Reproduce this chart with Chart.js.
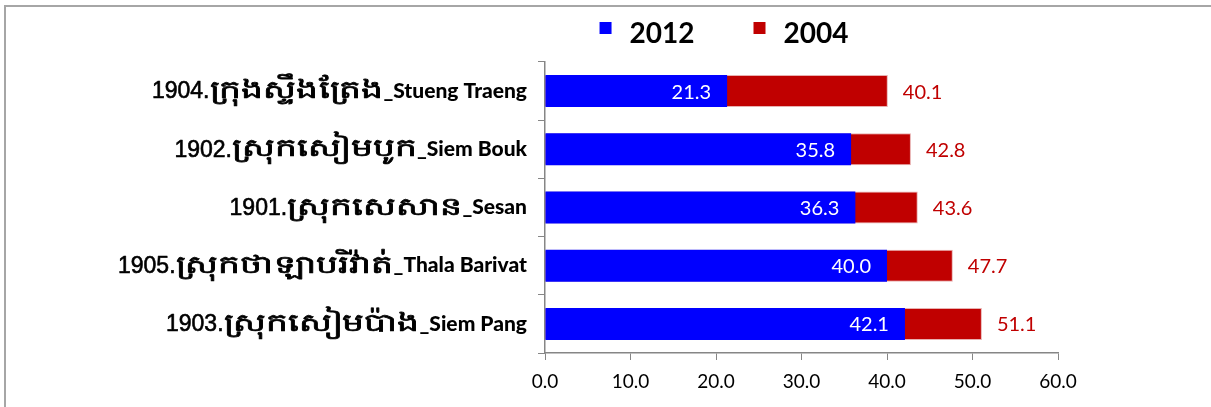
<!DOCTYPE html>
<html>
<head>
<meta charset="utf-8">
<script src="https://cdn.jsdelivr.net/npm/chart.js@4.4.1/dist/chart.umd.min.js"></script>
<style>
  html, body { margin: 0; padding: 0; background: #fff; overflow: hidden; }
  #frame {
    position: absolute; left: 4px; top: 5px; width: 1400px; height: 600px;
    border-left: 2px solid #a6a6a6; border-top: 2px solid #a6a6a6;
  }
  #wrap { position: absolute; left: 0; top: 0; width: 1211px; height: 407px; }
</style>
</head>
<body>
<div id="frame"></div>
<div id="wrap"><canvas id="chart"></canvas></div>
<script>
// Districts, top to bottom
const categories = [
  '1904.ក្រុងស្ទឹងត្រែង_Stueng Traeng',
  '1902.ស្រុកសៀមបូក_Siem Bouk',
  '1901.ស្រុកសេសាន_Sesan',
  '1905.ស្រុកថាឡាបរិវ៉ាត់_Thala Barivat',
  '1903.ស្រុកសៀមប៉ាង_Siem Pang'
];
const seriesNames = ['2012', '2004'];
const values2012 = [21.3, 35.8, 36.3, 40.0, 42.1];
const values2004 = [40.1, 42.8, 43.6, 47.7, 51.1];
const xTicks = [0, 10, 20, 30, 40, 50, 60];

const BLUE = '#0000ff';
const RED = '#c00000';
const AXIS = '#868686';

// Value labels: 2012 inside the bar end in white, 2004 just past the bar end in red
const valueLabels = {
  id: 'valueLabels',
  afterDatasetsDraw(chart) {
    const ctx = chart.ctx;
    ctx.save();
    ctx.font = '20px Lato';
    ctx.textBaseline = 'middle';
    chart.data.datasets.forEach((ds, di) => {
      const meta = chart.getDatasetMeta(di);
      meta.data.forEach((bar, i) => {
        const txt = ds.data[i].toFixed(1);
        if (di === 0) {
          ctx.fillStyle = '#ffffff';
          ctx.textAlign = 'right';
          ctx.fillText(txt, bar.x - 16, bar.y + 1);
        } else {
          ctx.fillStyle = RED;
          ctx.textAlign = 'left';
          ctx.fillText(txt, bar.x + 15, bar.y + 1);
        }
      });
    });
    ctx.restore();
  }
};

// Category labels: district code, Khmer name (wide, medium weight), then the romanised name in bold
const categoryLabels = {
  id: 'categoryLabels',
  afterDraw(chart) {
    const ctx = chart.ctx;
    const y = chart.scales.y;
    const right = y.right - 18;
    const khmerStretch = 1.38;
    ctx.save();
    ctx.textBaseline = 'middle';
    ctx.textAlign = 'right';
    ctx.fillStyle = '#000000';
    ctx.strokeStyle = '#000000';
    ctx.lineJoin = 'round';
    categories.forEach((label, i) => {
      const dot = label.indexOf('.') + 1;
      const cut = label.indexOf('_');
      const code = label.slice(0, dot);
      const khmer = label.slice(dot, cut);
      const latin = label.slice(cut);
      const py = y.getPixelForValue(i);
      let x = right;
      ctx.font = '900 21px Lato';
      ctx.fillText(latin, x, py);
      x -= ctx.measureText(latin).width;
      ctx.font = '25px "Noto Sans", sans-serif';
      const kw = ctx.measureText(khmer).width * khmerStretch;
      ctx.save();
      ctx.translate(x, py);
      ctx.scale(khmerStretch, 1);
      ctx.lineWidth = 0.7;
      ctx.fillText(khmer, 0, 0);
      ctx.strokeText(khmer, 0, 0);
      ctx.restore();
      x -= kw;
      ctx.font = '23px "Liberation Sans", sans-serif';
      ctx.lineWidth = 0.6;
      ctx.fillText(code, x, py + 1);
      ctx.strokeText(code, x, py + 1);
    });
    ctx.restore();
  }
};

// Legend drawn above the plot
const topLegend = {
  id: 'topLegend',
  afterDraw(chart) {
    const ctx = chart.ctx;
    ctx.save();
    ctx.font = 'bold 28px Lato';
    ctx.textBaseline = 'middle';
    ctx.textAlign = 'left';
    const box = 12, gapText = 18, gapItem = 59, cy = 33;
    const items = chart.data.datasets.map(d => ({ text: d.label, color: d.backgroundColor }));
    const widths = items.map(it => box + gapText + ctx.measureText(it.text).width);
    const total = widths.reduce((a, b) => a + b, 0) + gapItem * (items.length - 1);
    let x = 724 - total / 2;
    items.forEach((it, i) => {
      ctx.fillStyle = it.color;
      ctx.fillRect(x, 22, box, box);
      ctx.fillStyle = '#000000';
      ctx.fillText(it.text, x + box + gapText, cy + 1);
      x += widths[i] + gapItem;
    });
    ctx.restore();
  }
};

new Chart(document.getElementById('chart'), {
  type: 'bar',
  data: {
    labels: categories,
    datasets: [
      { label: seriesNames[0], data: values2012, backgroundColor: BLUE, grouped: false,
        categoryPercentage: 1, barPercentage: 0.55 },
      { label: seriesNames[1], data: values2004, backgroundColor: RED, grouped: false,
        categoryPercentage: 1, barPercentage: 0.55, borderColor: '#e8b0b0', borderWidth: 1, borderSkipped: 'left' }
    ]
  },
  options: {
    indexAxis: 'y',
    responsive: true,
    maintainAspectRatio: false,
    animation: false,
    layout: { padding: { top: 62, right: 153, bottom: 0, left: 0 } },
    plugins: { legend: { display: false }, tooltip: { enabled: false } },
    scales: {
      x: {
        min: xTicks[0], max: xTicks[xTicks.length - 1],
        afterBuildTicks(scale) { scale.ticks = xTicks.map(v => ({ value: v })); },
        afterFit(scale) { scale.height = 54; },
        grid: { drawOnChartArea: false, drawTicks: true, tickLength: 7, color: AXIS, lineWidth: 1 },
        border: { display: true, color: AXIS, width: 1.5 },
        ticks: { color: '#000', font: { family: 'Lato', size: 19 }, padding: 10,
                 callback: v => Number(v).toFixed(1) }
      },
      y: {
        afterFit(scale) { scale.width = 545; },
        grid: { offset: true, drawOnChartArea: false, drawTicks: true, tickLength: 7, color: AXIS, lineWidth: 1 },
        border: { display: true, color: AXIS, width: 1.5 },
        ticks: { display: false }
      }
    }
  },
  plugins: [valueLabels, categoryLabels, topLegend]
});
</script>
</body>
</html>
